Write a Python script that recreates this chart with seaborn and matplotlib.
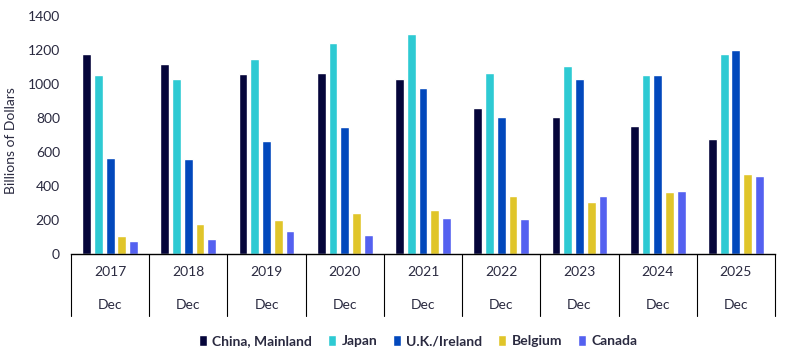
import matplotlib
matplotlib.use("Agg")
import matplotlib.pyplot as plt
import seaborn as sns
import pandas as pd

years = ["2017", "2018", "2019", "2020", "2021", "2022", "2023", "2024", "2025"]
months = ["Dec"] * 9
countries = ["China, Mainland", "Japan", "U.K./Ireland", "Belgium", "Canada"]
china = [1176, 1118, 1059, 1065, 1029, 859, 806, 753, 676]
japan = [1053, 1029, 1147, 1241, 1294, 1065, 1106, 1053, 1176]
uk = [565, 559, 665, 747, 976, 806, 1029, 1053, 1200]
belgium = [106, 176, 200, 241, 259, 341, 306, 365, 471]
canada = [78, 90, 135, 112, 212, 206, 341, 371, 459]
colors = ["#05053a", "#2ecad3", "#0248bc", "#e0c52a", "#5461f0"]
y_ticks = [0, 200, 400, 600, 800, 1000, 1200, 1400]

series = [china, japan, uk, belgium, canada]
rows = []
for c, vals in zip(countries, series):
    for y, v in zip(years, vals):
        rows.append({"year": y, "country": c, "value": v})
df = pd.DataFrame(rows)

sns.set_theme(style="white")
plt.rcParams["font.family"] = ["Lato", "DejaVu Sans"]
text_color = "#2a2a40"

W, H = 786, 358
fig = plt.figure(figsize=(W / 100, H / 100), dpi=100)
ax_left, ax_right, ax_bottom, ax_top = 71, 775, 254, 16
ax = fig.add_axes([ax_left / W, 1 - ax_bottom / H, (ax_right - ax_left) / W, (ax_bottom - ax_top) / H])

sns.barplot(data=df, x="year", y="value", hue="country", hue_order=countries,
            palette=colors, width=0.75, gap=0.25, ax=ax, saturation=1)
handles, labels = ax.get_legend_handles_labels()
ax.get_legend().remove()

ax.set_ylim(0, 1400)
ax.set_yticks(y_ticks)
ax.set_yticklabels([str(t) for t in y_ticks], fontsize=10, color=text_color)
ax.set_xlim(-0.5, len(years) - 0.5)
ax.set_xticks([])
ax.set_xlabel("")
ax.set_ylabel("Billions of Dollars", fontsize=10, color=text_color)
ax.yaxis.set_label_coords(-0.076, 0.475)
ax.tick_params(axis="y", length=0, pad=8)
for s in ["left", "right", "top"]:
    ax.spines[s].set_visible(False)
ax.spines["bottom"].set_color("black")
ax.spines["bottom"].set_linewidth(1)

# category table under the axis
px_to_pt = 72 / 100
table_depth = 62
for i in range(len(years) + 1):
    xb = i - 0.5
    ax.plot([xb, xb], [0, -table_depth * (1400 / (ax_bottom - ax_top))],
            color="black", lw=0.8, clip_on=False)
for i, (yr, m) in enumerate(zip(years, months)):
    ax.annotate(yr, xy=(i, 0), xycoords=("data", "axes fraction"),
                xytext=(0, -18 * px_to_pt), textcoords="offset points",
                ha="center", va="center", fontsize=10, color=text_color,
                annotation_clip=False)
    ax.annotate(m, xy=(i, 0), xycoords=("data", "axes fraction"),
                xytext=(0, -51 * px_to_pt), textcoords="offset points",
                ha="center", va="center", fontsize=10, color=text_color,
                annotation_clip=False)

leg = fig.legend(handles, labels, loc="center", bbox_to_anchor=(418 / W, 1 - 341 / H),
                 ncol=5, frameon=False, handlelength=0.6, handleheight=0.9,
                 handletextpad=0.4, columnspacing=1.1,
                 prop={"weight": "bold", "size": 10})
for t in leg.get_texts():
    t.set_color(text_color)

fig.savefig("out.png", dpi=100)
